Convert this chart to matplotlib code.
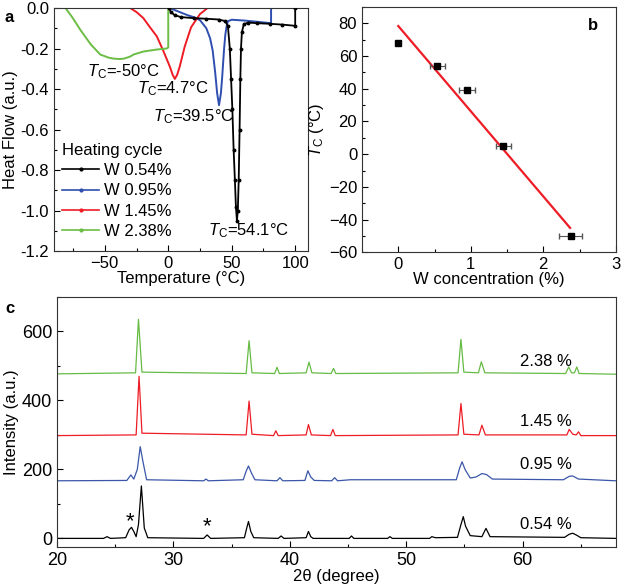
import matplotlib
matplotlib.use('Agg')
import matplotlib.pyplot as plt
from matplotlib.ticker import MultipleLocator
from matplotlib.lines import Line2D
import numpy as np

plt.rcParams['font.family'] = ['Liberation Sans', 'DejaVu Sans']
plt.rcParams['mathtext.fontset'] = 'custom'
plt.rcParams['mathtext.rm'] = 'Liberation Sans'
plt.rcParams['mathtext.it'] = 'Liberation Sans:italic'
plt.rcParams['axes.edgecolor'] = '#333333'
plt.rcParams['axes.linewidth'] = 0.8

# ---- panel a: DSC heating curves (temperature, heat flow) ----
dsc_labels = ['W 0.54%', 'W 0.95%', 'W 1.45%', 'W 2.38%']
dsc_colors = ['#000000', '#2f4fb0', '#ee1c25', '#6cbd45']

t_054 = [0.8, 2, 5, 10, 20, 30, 40, 45, 47, 48.5, 49.5, 50.5, 51.5, 52.5, 53.3, 54.1,
         54.8, 55.5, 56.2, 56.8, 57.3, 58, 59.5, 63, 70, 80, 90, 100, 100]
h_054 = [0.0, -0.02, -0.035, -0.045, -0.05, -0.053, -0.057, -0.065, -0.09, -0.2, -0.35,
         -0.5, -0.7, -0.85, -0.98, -1.05, -1.0, -0.85, -0.6, -0.35, -0.2, -0.12, -0.08,
         -0.072, -0.075, -0.078, -0.082, -0.088, 0.0]
t_095 = [0.8, 5, 9, 15, 20, 25, 30, 33, 35, 37, 38.5, 40, 41.5, 42.5, 44, 45, 46, 47,
         50, 60, 70, 81, 81]
h_095 = [0.0, -0.01, -0.02, -0.035, -0.045, -0.06, -0.1, -0.15, -0.21, -0.32, -0.42,
         -0.48, -0.42, -0.34, -0.2, -0.13, -0.09, -0.065, -0.058, -0.062, -0.068, -0.075, 0.0]
t_145 = [-30, -25, -19.6, -15, -9, -4, 1.3, 3.5, 5.2, 7, 9, 13, 18, 25, 31]
h_145 = [0.0, -0.02, -0.05, -0.09, -0.14, -0.21, -0.29, -0.33, -0.35, -0.33, -0.29,
         -0.19, -0.095, -0.03, 0.0]
t_238 = [-81, -75.7, -69, -61, -53.5, -47, -43, -38, -35, -30, -27.4, -19.6, -9, -1.3, 0, 0]
h_238 = [0.0, -0.045, -0.11, -0.18, -0.23, -0.245, -0.25, -0.252, -0.25, -0.24, -0.23,
         -0.215, -0.205, -0.2, -0.195, 0.0]
dsc_t = [t_054, t_095, t_145, t_238]
dsc_h = [h_054, h_095, h_145, h_238]

tc_text = [r'$T_{\mathrm{C}}$=-50°C', r'$T_{\mathrm{C}}$=4.7°C',
           r'$T_{\mathrm{C}}$=39.5°C', r'$T_{\mathrm{C}}$=54.1°C']
tc_text_x = [-35, 4, 20, 63]
tc_text_y = [-0.315, -0.4, -0.537, -1.1]

# ---- panel b: Tc vs W concentration ----
w_conc = [0.0, 0.54, 0.95, 1.45, 2.38]
tc_vals = [68, 54, 39.5, 4.7, -50]
w_err = [0.0, 0.107, 0.11, 0.1, 0.16]
fit_x = [0.0, 2.37]
fit_y = [78.4, -45.1]

# ---- panel c: XRD patterns (2theta, intensity) ----
x_054 = [20, 24.0, 24.3, 24.6, 25.9, 26.2, 26.4, 26.6, 26.8, 27.0, 27.25, 27.5, 27.8,
         32.6, 32.9, 33.2, 36.1, 36.3, 36.45, 36.65, 36.9, 39.0, 39.25, 39.5, 41.4, 41.6,
         41.8, 42.0, 45.1, 45.3, 45.5, 48.4, 48.6, 48.8, 52.0, 52.2, 52.5, 54.4, 54.7,
         54.9, 55.1, 55.5, 56.5, 56.85, 57.2, 63.6, 64.0, 64.3, 64.6, 65.0, 68]
y_054 = [0, 0, 5, 0, 2, 25, 32, 20, 5, 40, 152, 30, 2,
         0, 10, 0, 2, 30, 49, 20, 2, 0, 7, 0, 2, 20,
         5, 0, 0, 7, 0, 0, 5, 0, 0, 5, 2, 3, 40,
         63, 35, 8, 5, 29, 5, 3, 12, 15, 10, 2, 0]
x_095 = [20, 26.0, 26.35, 26.6, 26.9, 27.15, 27.4, 27.7, 32.6, 32.8, 33.0, 36.0, 36.25,
         36.45, 36.7, 37.0, 38.9, 39.15, 39.4, 41.3, 41.55, 41.8, 42.1, 43.6, 43.85, 44.1,
         45.2, 54.3, 54.6, 54.8, 55.05, 55.5, 56.0, 56.5, 56.9, 57.4, 63.5, 64.0, 64.3,
         64.8, 68]
y_095 = [167, 168, 184, 172, 200, 266, 220, 170, 167, 172, 167, 170, 195,
         210, 190, 170, 167, 176, 167, 168, 196, 178, 168, 167, 176, 167,
         170, 170, 205, 222, 200, 175, 178, 188, 185, 172, 170, 180, 181,
         172, 167]
x_145 = [20, 26.8, 27.05, 27.3, 36.25, 36.5, 36.75, 38.6, 38.8, 39.0, 41.4, 41.6, 41.85,
         43.5, 43.7, 43.9, 54.45, 54.7, 54.95, 56.25, 56.5, 56.8, 63.8, 64.0, 64.3, 64.6,
         64.8, 65.0, 68]
y_145 = [298, 300, 470, 305, 300, 398, 302, 298, 312, 298, 300, 330, 300,
         298, 316, 298, 300, 391, 302, 300, 328, 300, 300, 316, 302, 300,
         309, 298, 298]
x_238 = [20, 26.75, 27.0, 27.3, 36.25, 36.5, 36.75, 38.7, 38.9, 39.1, 41.4, 41.65, 41.9,
         43.55, 43.75, 43.95, 54.45, 54.7, 54.95, 56.2, 56.45, 56.75, 63.7, 63.95, 64.2,
         64.45, 64.65, 64.85, 68]
y_238 = [477, 480, 635, 482, 478, 573, 480, 478, 496, 478, 480, 511, 480,
         478, 493, 478, 480, 577, 482, 480, 512, 480, 478, 497, 480,
         480, 497, 478, 476]
xrd_x = [x_054, x_095, x_145, x_238]
xrd_y = [y_054, y_095, y_145, y_238]
xrd_labels = ['0.54 %', '0.95 %', '1.45 %', '2.38 %']
xrd_label_y = [39, 213, 338, 512]
xrd_colors = ['#000000', '#3a56a8', '#ee1c25', '#66bb44']
star_x = [26.3, 32.9]
star_y = [48, 34]

fig = plt.figure(figsize=(6.22, 5.88), dpi=100)
ax_a = fig.add_axes([0.0868, 0.573, 0.4082, 0.4134])
ax_b = fig.add_axes([0.582, 0.571, 0.408, 0.417])
ax_c = fig.add_axes([0.0916, 0.0697, 0.8984, 0.4253])

def style_ticks(ax, fs):
    ax.tick_params(which='both', direction='in', top=False, right=False, labelsize=fs)
    ax.tick_params(which='major', length=4, width=0.8)
    ax.tick_params(which='minor', length=2, width=0.8)

# panel a
handles = []
for i, (t, h, c, lab) in enumerate(zip(dsc_t, dsc_h, dsc_colors, dsc_labels)):
    if i == 0:
        ax_a.plot(t, h, color=c, lw=1.3, marker='o', ms=1.8, zorder=3)
    else:
        ax_a.plot(t, h, color=c, lw=1.4)
    handles.append(Line2D([], [], color=c, lw=1.2, marker='.', ms=4, label=lab))
for s, x, y in zip(tc_text, tc_text_x, tc_text_y):
    ax_a.text(x, y, s, ha='center', va='center', fontsize=12)
ax_a.set_xlim(-90, 110)
ax_a.set_ylim(-1.2, 0.0)
ax_a.xaxis.set_major_locator(MultipleLocator(50))
ax_a.xaxis.set_minor_locator(MultipleLocator(25))
ax_a.yaxis.set_major_locator(MultipleLocator(0.2))
ax_a.yaxis.set_minor_locator(MultipleLocator(0.1))
ax_a.set_yticklabels([f'{v:.1f}' for v in ax_a.get_yticks()])
style_ticks(ax_a, 12)
ax_a.set_xlabel('Temperature (°C)', fontsize=12, labelpad=0)
ax_a.set_ylabel('Heat Flow (a.u.)', fontsize=12, labelpad=2)
leg = ax_a.legend(handles=handles, title='Heating cycle', loc='lower left',
                  bbox_to_anchor=(0.0, 0.015), frameon=False, fontsize=12,
                  title_fontsize=12, handlelength=2.2, handletextpad=0.3,
                  labelspacing=0.32, borderaxespad=0.1)
leg._legend_box.align = 'left'

# panel b
ax_b.errorbar(w_conc, tc_vals, xerr=w_err, fmt='s', color='black', ms=5,
              ecolor='#555555', elinewidth=0.8, capsize=2, zorder=3)
ax_b.plot(fit_x, fit_y, color='#ee1c25', lw=1.6)
ax_b.set_xlim(-0.5, 3)
ax_b.set_ylim(-60, 90)
ax_b.xaxis.set_major_locator(MultipleLocator(1))
ax_b.xaxis.set_minor_locator(MultipleLocator(0.5))
ax_b.yaxis.set_major_locator(MultipleLocator(20))
ax_b.yaxis.set_minor_locator(MultipleLocator(10))
style_ticks(ax_b, 12)
ax_b.set_xlabel('W concentration (%)', fontsize=12, labelpad=0)
ax_b.set_ylabel(r'$T_{\mathrm{C}}$ (°C)', fontsize=12, labelpad=2)
ax_b.text(0.91, 0.925, 'b', transform=ax_b.transAxes, fontsize=12, fontweight='bold',
          ha='center', va='center')

# panel c
for x, y, c in zip(xrd_x, xrd_y, xrd_colors):
    ax_c.plot(x, y, color=c, lw=0.9)
for lab, y in zip(xrd_labels, xrd_label_y):
    ax_c.text(62.0, y, lab, ha='center', va='center', fontsize=12)
for x, y in zip(star_x, star_y):
    ax_c.text(x, y, '*', ha='center', va='center', fontsize=16)
ax_c.set_xlim(20, 68)
ax_c.set_ylim(-25, 700)
ax_c.xaxis.set_major_locator(MultipleLocator(10))
ax_c.xaxis.set_minor_locator(MultipleLocator(5))
ax_c.yaxis.set_major_locator(MultipleLocator(200))
ax_c.yaxis.set_minor_locator(MultipleLocator(100))
style_ticks(ax_c, 13)
ax_c.set_xlabel('2θ (degree)', fontsize=12, labelpad=0)
ax_c.set_ylabel('Intensity (a.u.)', fontsize=12, labelpad=2)

fig.text(0.008, 0.97, 'a', fontsize=12, fontweight='bold', va='center')
fig.text(0.008, 0.476, 'c', fontsize=12, fontweight='bold', va='center')

fig.savefig('out.png', dpi=100)
